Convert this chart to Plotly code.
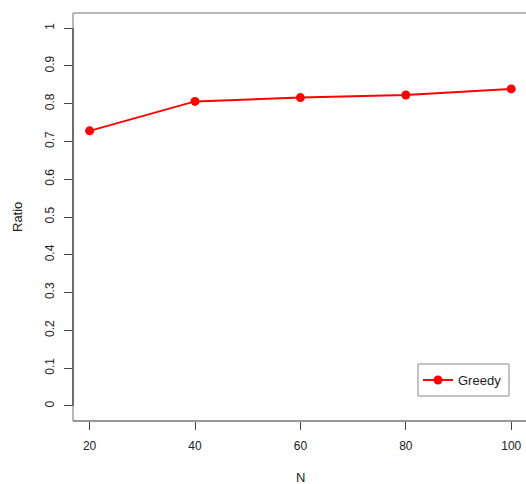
import plotly.graph_objects as go

n_values = [20, 40, 60, 80, 100]
ratio_values = [0.728, 0.806, 0.816, 0.823, 0.839]
series_name = "Greedy"
x_ticks = [20, 40, 60, 80, 100]
y_ticks = [0, 0.1, 0.2, 0.3, 0.4, 0.5, 0.6, 0.7, 0.8, 0.9, 1]
y_tick_labels = ["0", "0.1", "0.2", "0.3", "0.4", "0.5", "0.6", "0.7", "0.8", "0.9", "1"]

FONT = "Liberation Sans, Arial, Helvetica, sans-serif"
TXT = "#222222"

W, H = 526, 484
PL, PT, PR, PB = 73, 13, 0, 63
pw = W - PL - PR
ph = H - PT - PB


def px(xp):  # page x -> paper
    return (xp - PL) / pw


def py(yp):  # page y -> paper
    return (H - PB - yp) / ph


fig = go.Figure()
fig.add_trace(go.Scatter(
    x=n_values, y=ratio_values, name=series_name, mode="lines+markers",
    line=dict(color="#ff0000", width=2),
    marker=dict(color="#ff0000", size=9, symbol="circle"),
))

fig.update_layout(
    width=W, height=H, autosize=False,
    margin=dict(l=PL, r=PR, t=PT, b=PB, pad=0),
    paper_bgcolor="white", plot_bgcolor="white",
    font=dict(family=FONT, size=12, color=TXT),
    showlegend=True,
    legend=dict(
        x=px(418), y=py(380), xanchor="left", yanchor="middle",
        borderwidth=0, bgcolor="rgba(0,0,0,0)",
        font=dict(family=FONT, size=13, color=TXT),
        itemwidth=30, tracegroupgap=0,
    ),
    xaxis=dict(
        range=[16.85, 102.8], tickmode="array", tickvals=x_ticks,
        ticks="outside", ticklen=8, tickcolor="#444444", tickwidth=1,
        showgrid=False, zeroline=False, showline=False,
        ticklabelstandoff=6,
        tickfont=dict(family=FONT, size=12, color=TXT),
    ),
    yaxis=dict(
        range=[-0.04, 1.04], tickmode="array", tickvals=y_ticks, ticktext=y_tick_labels,
        ticks="outside", ticklen=8, tickcolor="#444444", tickwidth=1,
        showgrid=False, zeroline=False, showline=False, tickangle=-90,
        ticklabelstandoff=5,
        tickfont=dict(family=FONT, size=12, color=TXT),
    ),
    shapes=[
        dict(type="line", xref="paper", yref="paper", x0=0, x1=1, y0=1, y1=1,
             line=dict(color="#a0a0a0", width=1.5)),
        dict(type="line", xref="paper", yref="paper", x0=0, x1=0, y0=0, y1=1,
             line=dict(color="#a0a0a0", width=1.5)),
        dict(type="line", xref="paper", yref="paper", x0=0, x1=1, y0=0, y1=0,
             line=dict(color="#333333", width=1.2)),
        dict(type="line", xref="paper", yref="y", x0=0, x1=0, y0=0, y1=1,
             line=dict(color="#555555", width=1.5)),
        dict(type="rect", xref="paper", yref="paper",
             x0=px(418), x1=px(509), y0=py(396), y1=py(364),
             line=dict(color="#888888", width=1), fillcolor="rgba(0,0,0,0)"),
    ],
    annotations=[
        dict(text="N", xref="paper", yref="paper", x=px(300), y=py(477),
             showarrow=False, xanchor="center", yanchor="middle",
             font=dict(family=FONT, size=13, color=TXT)),
        dict(text="Ratio", xref="paper", yref="paper", x=px(17), y=py(217),
             showarrow=False, xanchor="center", yanchor="middle", textangle=-90,
             font=dict(family=FONT, size=13, color=TXT)),
    ],
)

fig.write_html(
    "out.html",
    config={"displayModeBar": False},
    post_script="document.body.style.margin='0';document.body.style.overflow='hidden';"
                "document.documentElement.style.overflow='hidden';",
)
